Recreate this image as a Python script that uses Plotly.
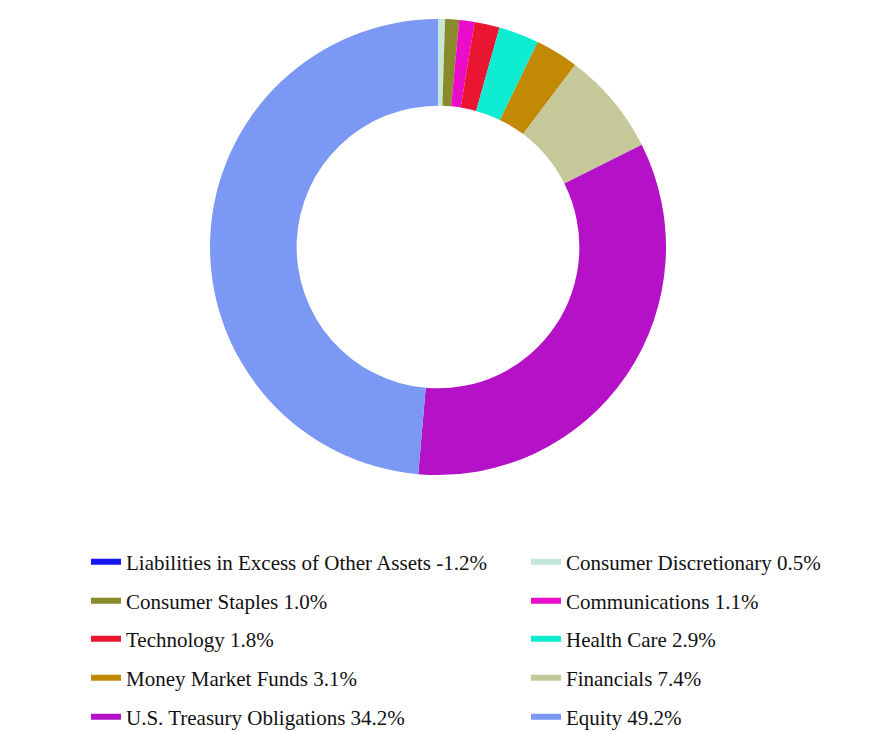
import plotly.graph_objects as go

labels = ["Liabilities in Excess of Other Assets", "Consumer Discretionary", "Consumer Staples",
          "Communications", "Technology", "Health Care", "Money Market Funds", "Financials",
          "U.S. Treasury Obligations", "Equity"]
values = [-1.2, 0.5, 1.0, 1.1, 1.8, 2.9, 3.1, 7.4, 34.2, 49.2]
colors = ["#1616ee", "#c4e7d8", "#8b8a2a", "#ea0cc8", "#ea1530", "#0eecd2", "#c28a04",
          "#c5c99a", "#b512c8", "#7b98f4"]

W, H = 876, 732
pos = [(l, v, c) for l, v, c in zip(labels, values, colors) if v > 0]

fig = go.Figure()
fig.add_trace(go.Pie(
    labels=[p[0] for p in pos], values=[p[1] for p in pos],
    marker=dict(colors=[p[2] for p in pos], line=dict(width=0)),
    hole=0.62, sort=False, direction="clockwise", rotation=0,
    textinfo="none", hoverinfo="label+value", showlegend=False,
    domain=dict(x=[(438 - 228) / W, (438 + 228) / W], y=[(H - 475) / H, (H - 19) / H]),
))

row_y = [562, 601, 639, 678, 717]
col_x = [86, 526]
layout_legends = {}
for i, (l, v, c) in enumerate(zip(labels, values, colors)):
    row, col = divmod(i, 2)
    key = "legend" if i == 0 else f"legend{i + 1}"
    fig.add_trace(go.Scatter(
        x=[None], y=[None], mode="lines", name=f"{l} {v:.1f}%",
        line=dict(color=c, width=6), legend=key, hoverinfo="skip",
    ))
    layout_legends[key] = dict(
        orientation="h", x=col_x[col] / W, xanchor="left",
        y=(H - row_y[row]) / H, yanchor="middle",
        font=dict(family="'Times New Roman', 'Liberation Serif', serif", size=21, color="#111111"),
        bgcolor="rgba(0,0,0,0)", borderwidth=0,
    )

fig.update_layout(
    width=W, height=H, margin=dict(l=0, r=0, t=0, b=0, autoexpand=False),
    paper_bgcolor="white", plot_bgcolor="white",
    xaxis=dict(visible=False), yaxis=dict(visible=False),
    **layout_legends,
)
fig.write_html("out.html")
